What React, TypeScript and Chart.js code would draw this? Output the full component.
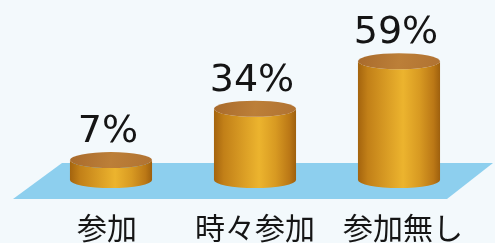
import React, { useEffect, useRef } from "react";
import { Chart, registerables } from "chart.js";

Chart.register(...registerables);

const categories = ["参加", "時々参加", "参加無し"];
const percentValues = [7, 34, 59];
const percentLabels = ["7%", "34%", "59%"];
const valueAxisMin = -3.5;
const valueAxisMax = 70;

const floorPlugin = {
  id: "floor3d",
  beforeDatasetsDraw(chart: any) {
    const { ctx, chartArea, scales } = chart;
    const B = scales.y.getPixelForValue(valueAxisMin);
    ctx.save();
    ctx.beginPath();
    ctx.moveTo(chartArea.left + 23, B - 17);
    ctx.lineTo(chartArea.right + 22, B - 17);
    ctx.lineTo(chartArea.right - 24, B + 19);
    ctx.lineTo(chartArea.left - 26, B + 19);
    ctx.closePath();
    ctx.fillStyle = "#8dcfee";
    ctx.fill();
    ctx.restore();
  },
};

const cylinderPlugin = {
  id: "cylinders",
  afterDatasetsDraw(chart: any) {
    const { ctx, scales } = chart;
    const meta = chart.getDatasetMeta(0);
    meta.data.forEach((bar: any, i: number) => {
      const { x, y, base, width } = bar.getProps(["x", "y", "base", "width"], true);
      const rx = width / 2;
      const ry = 8;
      const left = x - rx;
      const right = x + rx;
      ctx.save();
      const g = ctx.createLinearGradient(left, 0, right, 0);
      g.addColorStop(0, "#a4640e");
      g.addColorStop(0.12, "#c28018");
      g.addColorStop(0.35, "#d99c24");
      g.addColorStop(0.55, "#ecb42e");
      g.addColorStop(0.75, "#d89a22");
      g.addColorStop(0.92, "#bb7816");
      g.addColorStop(1, "#9e600e");
      ctx.beginPath();
      ctx.moveTo(left, y);
      ctx.lineTo(left, base);
      ctx.ellipse(x, base, rx, ry, 0, Math.PI, 0, true);
      ctx.lineTo(right, y);
      ctx.ellipse(x, y, rx, ry, 0, 0, Math.PI, false);
      ctx.closePath();
      ctx.fillStyle = g;
      ctx.fill();
      const tg = ctx.createLinearGradient(left, y - ry, right, y + ry);
      tg.addColorStop(0, "#a86a2c");
      tg.addColorStop(0.5, "#bc7f38");
      tg.addColorStop(1, "#b07232");
      ctx.beginPath();
      ctx.ellipse(x, y, rx, ry, 0, 0, Math.PI * 2);
      ctx.fillStyle = tg;
      ctx.fill();
      ctx.fillStyle = "#151515";
      ctx.font = "38px 'DejaVu Sans'";
      ctx.textAlign = "center";
      ctx.textBaseline = "alphabetic";
      ctx.fillText(percentLabels[i], x - 3, y - ry - 10);
      ctx.font = "30px 'Noto Sans CJK JP'";
      ctx.textBaseline = "middle";
      const lx = scales.x.getPixelForValue(i);
      ctx.fillText(categories[i], lx + (i - 1) * 4, base + 48);
      ctx.restore();
    });
  },
};

export default function App() {
  const canvasRef = useRef<HTMLCanvasElement | null>(null);
  useEffect(() => {
    const canvas = canvasRef.current;
    if (!canvas) return;
    const chart = new Chart(canvas, {
      type: "bar",
      data: {
        labels: categories,
        datasets: [
          {
            data: percentValues,
            base: valueAxisMin,
            backgroundColor: "rgba(0,0,0,0)",
            borderWidth: 0,
            categoryPercentage: 1,
            barPercentage: 0.57,
          } as any,
        ],
      },
      options: {
        animation: false,
        responsive: false,
        maintainAspectRatio: false,
        layout: { padding: { left: 39, right: 24, top: 40.35, bottom: 63 } },
        plugins: { legend: { display: false }, tooltip: { enabled: false } },
        scales: {
          x: { display: false },
          y: {
            display: false,
            min: valueAxisMin,
            max: valueAxisMax,
          },
        },
      },
      plugins: [floorPlugin, cylinderPlugin],
    });
    return () => chart.destroy();
  }, []);
  return (
    <div style={{ position: "fixed", left: 0, top: 0, width: 495, height: 243, background: "#f3f9fc" }}>
      <canvas ref={canvasRef} width={495} height={243} style={{ display: "block" }} />
    </div>
  );
}
